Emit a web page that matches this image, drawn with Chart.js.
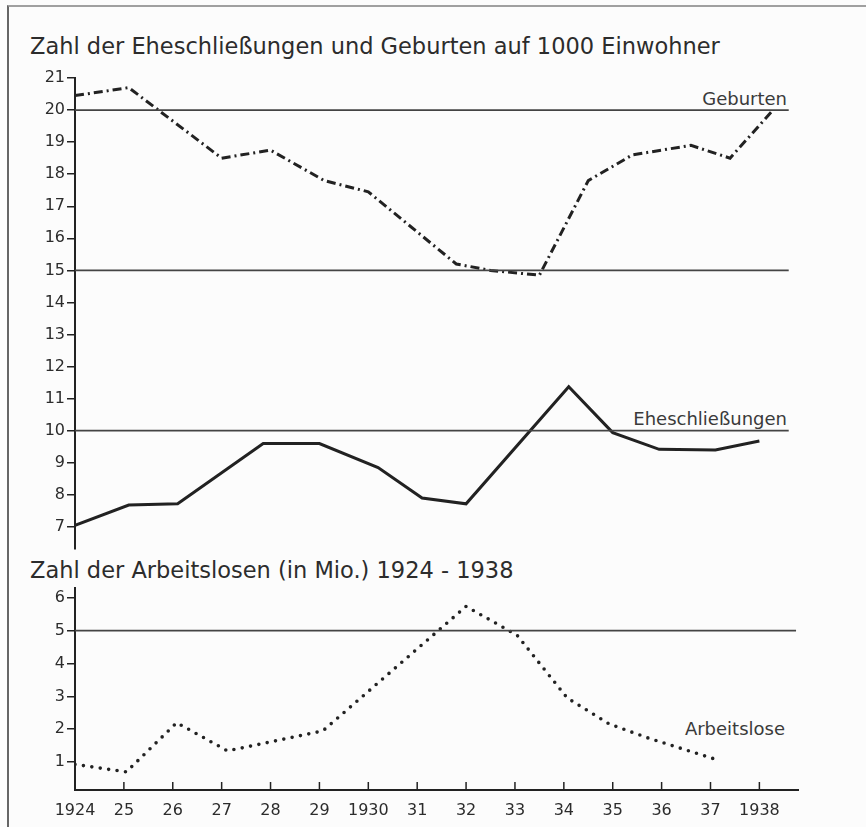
<!DOCTYPE html>
<html>
<head>
<meta charset="utf-8">
<script src="https://cdn.jsdelivr.net/npm/chart.js@4"></script>
<style>
  body { margin: 0; background: #fcfcfc; }
  #wrap { position: relative; width: 866px; height: 827px; overflow: hidden;
          font-family: "DejaVu Sans", sans-serif; color: #2c2c2c; }
  .frame { position: absolute; left: 7px; top: 5px; right: -10px; bottom: -10px;
           border-top: 2px solid #a0a0a0; border-left: 2px solid #666; }
  .txt { position: absolute; white-space: nowrap; line-height: 1; }
  .title { font-size: 22.5px; left: 30px; }
  .lbl { font-size: 18px; color: #3a3a3a; }
  canvas { position: absolute; left: 0; }
</style>
</head>
<body>
<div id="wrap">
  <div class="frame"></div>
  <div class="txt title" style="top:35px">Zahl der Eheschließungen und Geburten auf 1000 Einwohner</div>
  <div class="txt lbl" style="top:90px; right:79px">Geburten</div>
  <div class="txt lbl" style="top:410px; right:79px">Eheschließungen</div>
  <div class="txt title" style="top:559px">Zahl der Arbeitslosen (in Mio.) 1924 - 1938</div>
  <div class="txt lbl" style="top:720px; right:81px">Arbeitslose</div>
  <canvas id="topChart" width="866" height="560" style="top:0"></canvas>
  <canvas id="bottomChart" width="866" height="267" style="top:560px"></canvas>
</div>

<script>
// values (years are fractional where the drawing bends between years)
const xTickLabels = ['1924', '25', '26', '27', '28', '29', '1930', '31', '32', '33', '34', '35', '36', '37', '1938'];

const birthYears = [1924, 1925.1, 1927, 1928, 1929.1, 1930, 1931.8, 1932.5, 1933.5, 1934.5, 1935.4, 1936.6, 1937.4, 1938.25];
const birthRates = [20.45, 20.7, 18.5, 18.75, 17.8, 17.45, 15.2, 15.0, 14.85, 17.8, 18.6, 18.9, 18.5, 19.95];

const marriageYears = [1924, 1925.1, 1926.1, 1927.85, 1929, 1930.2, 1931.1, 1932, 1934.1, 1935, 1935.95, 1937.1, 1938];
const marriageRates = [7.05, 7.68, 7.72, 9.6, 9.6, 8.85, 7.9, 7.72, 11.37, 9.94, 9.42, 9.4, 9.68];

const joblessYears = [1924, 1925.05, 1926.08, 1927.12, 1929.07, 1932, 1932.88, 1933.05, 1934.07, 1934.93, 1935.71, 1937.09];
const jobless      = [0.93, 0.7, 2.2, 1.34, 1.95, 5.74, 5.0, 4.85, 2.95, 2.16, 1.74, 1.09];

const topTicks = [7, 8, 9, 10, 11, 12, 13, 14, 15, 16, 17, 18, 19, 20, 21];
const bottomTicks = [1, 2, 3, 4, 5, 6];
const topRefLines = [20, 15, 10];
const bottomRefLines = [5];

const INK = '#222';
const REF = '#444';
const FONT = { family: 'DejaVu Sans', size: 16 };
const X_MIN = 1924, X_MAX = 1938.79;

function pts(xs, ys) {
  return xs.map((x, i) => ({ x, y: ys[i] }));
}

function refSet(v, end) {
  return { data: [{ x: X_MIN, y: v }, { x: end, y: v }], borderColor: REF, borderWidth: 1.8 };
}

function yScale(min, max, tickVals) {
  return {
    min, max,
    afterBuildTicks: s => { s.ticks = tickVals.map(v => ({ value: v })); },
    afterFit: s => { s.width = 45; },
    border: { color: INK, width: 2 },
    grid: { drawOnChartArea: false, tickLength: 8, color: INK, lineWidth: 1.5 },
    ticks: { padding: 2, color: '#2c2c2c', font: FONT }
  };
}

// x axis ticks in the print point up into the plot
const innerTicks = {
  id: 'innerTicks',
  afterDraw(chart) {
    const x = chart.scales.x;
    const { ctx, chartArea } = chart;
    ctx.save();
    ctx.strokeStyle = INK;
    ctx.lineWidth = 1.5;
    x.ticks.forEach(t => {
      if (t.value === X_MIN) return;
      const px = x.getPixelForValue(t.value);
      ctx.beginPath();
      ctx.moveTo(px, chartArea.bottom);
      ctx.lineTo(px, chartArea.bottom - 8);
      ctx.stroke();
    });
    ctx.restore();
  }
};

const common = {
  animation: false,
  responsive: false,
  elements: { point: { radius: 0 }, line: { tension: 0 } },
  plugins: { legend: { display: false }, tooltip: { enabled: false } }
};

new Chart(document.getElementById('topChart'), {
  type: 'line',
  data: {
    datasets: [
      ...topRefLines.map(v => refSet(v, 1938.6)),
      { data: pts(birthYears, birthRates), borderColor: INK, borderWidth: 3, borderDash: [9, 4, 2, 4] },
      { data: pts(marriageYears, marriageRates), borderColor: INK, borderWidth: 3 }
    ]
  },
  options: {
    ...common,
    layout: { padding: { left: 30, top: 78, right: 68, bottom: 5 } },
    scales: {
      x: { type: 'linear', display: false, min: X_MIN, max: X_MAX },
      y: yScale(6.33, 21, topTicks)
    }
  }
});

new Chart(document.getElementById('bottomChart'), {
  type: 'line',
  data: {
    datasets: [
      ...bottomRefLines.map(v => refSet(v, 1938.75)),
      { data: pts(joblessYears, jobless), borderColor: INK, borderWidth: 3.6,
        borderDash: [0, 8.5], borderCapStyle: 'round' }
    ]
  },
  options: {
    ...common,
    layout: { padding: { left: 30, top: 28, right: 68, bottom: 0 } },
    scales: {
      x: {
        type: 'linear', min: X_MIN, max: X_MAX,
        afterBuildTicks: s => { s.ticks = xTickLabels.map((_, i) => ({ value: X_MIN + i })); },
        afterFit: s => { s.height = 37; },
        border: { color: INK, width: 2 },
        grid: { drawOnChartArea: false, drawTicks: false, color: 'rgba(0,0,0,0)' },
        ticks: { padding: 11, color: '#2c2c2c', font: FONT, maxRotation: 0, autoSkip: false,
                 callback: v => xTickLabels[Math.round(v) - X_MIN] }
      },
      y: yScale(0.15, 6.3, bottomTicks)
    }
  },
  plugins: [innerTicks]
});
</script>
</body>
</html>
